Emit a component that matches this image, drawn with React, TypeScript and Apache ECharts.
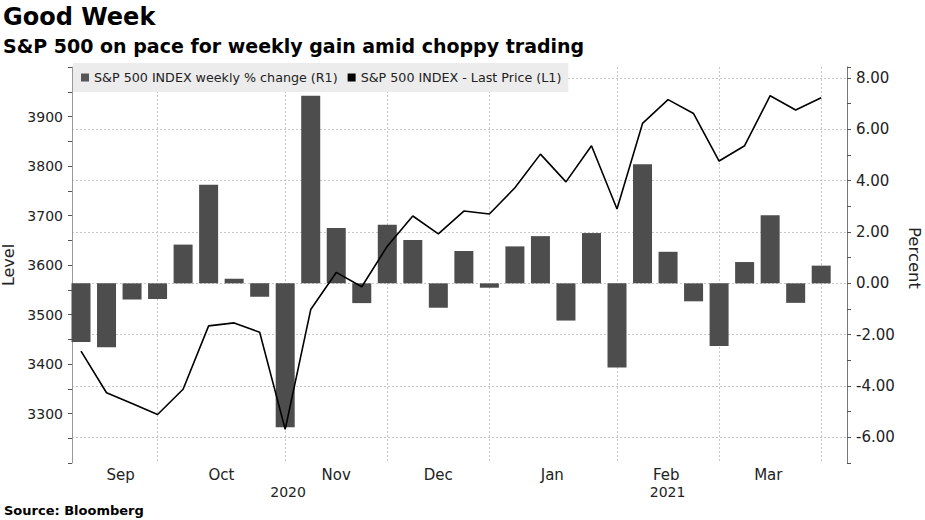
import React, { useEffect, useRef } from 'react';
import * as echarts from 'echarts';

// ---- data ----
const weekDates = [
  '2020-09-04', '2020-09-11', '2020-09-18', '2020-09-25', '2020-10-02', '2020-10-09',
  '2020-10-16', '2020-10-23', '2020-10-30', '2020-11-06', '2020-11-13', '2020-11-20',
  '2020-11-27', '2020-12-04', '2020-12-11', '2020-12-18', '2020-12-25', '2021-01-01',
  '2021-01-08', '2021-01-15', '2021-01-22', '2021-01-29', '2021-02-05', '2021-02-12',
  '2021-02-19', '2021-02-26', '2021-03-05', '2021-03-12', '2021-03-19', '2021-03-26',
];
const weeklyChange = [
  -2.29, -2.49, -0.63, -0.61, 1.51, 3.84, 0.18, -0.52, -5.61, 7.31, 2.16, -0.77,
  2.28, 1.69, -0.95, 1.26, -0.17, 1.44, 1.84, -1.45, 1.96, -3.28, 4.64, 1.23,
  -0.7, -2.44, 0.83, 2.65, -0.76, 0.69,
];
const lastPrice = [
  3426, 3342, 3320, 3298, 3349, 3477, 3483, 3464, 3268, 3510, 3585, 3556,
  3638, 3699, 3663, 3709, 3703, 3756, 3824, 3768, 3841, 3713, 3886, 3934,
  3906, 3810, 3841, 3942, 3913, 3938,
];
const monthEndDates = ['2020-09-25', '2020-10-30', '2020-11-27', '2020-12-25', '2021-01-29', '2021-02-26', '2021-03-26'];
const monthLabelDates = ['2020-09-14 21:00', '2020-10-12 12:00', '2020-11-13 00:00', '2020-12-11 00:00', '2021-01-11 06:00', '2021-02-11 12:00', '2021-03-11 12:00'];
const monthLabels = ['Sep', 'Oct', 'Nov', 'Dec', 'Jan', 'Feb', 'Mar'];
const yearLabelDates = ['2020-10-30 19:00', '2021-02-11 21:00'];
const yearLabels = ['2020', '2021'];
const axisStart = '2020-09-01 12:45';
const axisEnd = '2021-04-02 01:50';
const leftTickLabels = [3300, 3400, 3500, 3600, 3700, 3800, 3900];
const rightTickLabels = [-6, -4, -2, 0, 2, 4, 6, 8];

const barName = 'S&P 500 INDEX weekly % change (R1)';
const lineName = 'S&P 500 INDEX - Last Price (L1)';

const ts = (s: string) => new Date(s.length === 10 ? s + 'T00:00' : s.replace(' ', 'T')).getTime();
const nearestLabel = (v: number, dates: string[], labels: string[]) => {
  let best = 0;
  let bd = Infinity;
  dates.forEach((d, i) => {
    const dd = Math.abs(ts(d) - v);
    if (dd < bd) { bd = dd; best = i; }
  });
  return bd < 86400000 ? labels[best] : '';
};

const FONT = 'DejaVu Sans';

export default function App() {
  const ref = useRef<HTMLDivElement>(null);
  useEffect(() => {
    if (!ref.current) return;
    const chart = echarts.init(ref.current, null, { renderer: 'svg' });
    const xMin = ts(axisStart);
    const xMax = ts(axisEnd);
    const option: any = {
      animation: false,
      backgroundColor: '#ffffff',
      textStyle: { fontFamily: FONT },
      title: [
        { text: 'Good Week', left: 3, top: 5, padding: 0, textStyle: { fontFamily: FONT, fontSize: 24, fontWeight: 'bold', color: '#000' } },
        { text: 'S&P 500 on pace for weekly gain amid choppy trading', left: 3, top: 36, padding: 0, textStyle: { fontFamily: FONT, fontSize: 19, fontWeight: 'bold', color: '#000' } },
        { text: 'Source: Bloomberg', left: 4, top: 504, padding: 0, textStyle: { fontFamily: FONT, fontSize: 13, fontWeight: 'bold', color: '#000' } },
      ],
      legend: {
        left: 73, top: 63, orient: 'horizontal',
        backgroundColor: '#ececec',
        padding: [8, 7, 8, 8],
        itemGap: 10, itemWidth: 8, itemHeight: 8,
        textStyle: { fontFamily: FONT, fontSize: 12.7, color: '#222' },
        data: [
          { name: barName, icon: 'rect', itemStyle: { color: '#555555' } },
          { name: lineName, icon: 'rect', itemStyle: { color: '#000000' } },
        ],
      },
      grid: { left: 72, right: 78, top: 67, bottom: 57, outerBoundsMode: 'none', containLabel: false },
      xAxis: [
        {
          type: 'value', min: xMin, max: xMax, scale: true,
          axisLine: { show: false },
          axisTick: { show: false, customValues: monthEndDates.map(ts) },
          splitLine: { show: true, lineStyle: { type: [2, 2], color: '#c8c8c8', width: 1 } },
          axisLabel: {
            customValues: monthLabelDates.map(ts),
            formatter: (v: number) => nearestLabel(v, monthLabelDates, monthLabels),
            fontFamily: FONT, fontSize: 15, color: '#222', margin: 4,
          },
        },
        {
          type: 'value', min: xMin, max: xMax, scale: true, position: 'bottom',
          axisLine: { show: false },
          axisTick: { show: false },
          splitLine: { show: false },
          axisLabel: {
            customValues: yearLabelDates.map(ts),
            formatter: (v: number) => nearestLabel(v, yearLabelDates, yearLabels),
            fontFamily: FONT, fontSize: 14, color: '#222', margin: 22,
          },
        },
      ],
      yAxis: [
        {
          type: 'value', position: 'left', min: 3200, max: 4000, interval: 50,
          name: 'Level', nameLocation: 'middle', nameRotate: 90, nameGap: 52,
          nameTextStyle: { fontFamily: FONT, fontSize: 16, color: '#222' },
          axisLine: { show: true, lineStyle: { color: '#999999', width: 1 } },
          axisTick: { show: true, length: 4, lineStyle: { color: '#555555' } },
          axisLabel: {
            fontFamily: FONT, fontSize: 14, color: '#222', margin: 9,
            formatter: (v: number) => (leftTickLabels.indexOf(Math.round(v)) >= 0 && Math.abs(v - Math.round(v)) < 1e-6 ? String(Math.round(v)) : ''),
          },
          splitLine: { show: false },
        },
        {
          type: 'value', position: 'right', min: -7, max: 8.43, interval: 1,
          name: 'Percent', nameLocation: 'middle', nameRotate: -90, nameGap: 57,
          nameTextStyle: { fontFamily: FONT, fontSize: 16.5, color: '#222', padding: [0, 14, 0, 0] },
          axisLine: { show: true, lineStyle: { color: '#777777', width: 1 } },
          axisTick: { show: true, length: 4, lineStyle: { color: '#555555' } },
          axisLabel: {
            fontFamily: FONT, fontSize: 15, color: '#222', margin: 9,
            formatter: (v: number) => {
              const r = Math.round(v);
              return Math.abs(v - r) < 1e-6 && rightTickLabels.indexOf(r) >= 0 ? r.toFixed(2) : '';
            },
          },
          splitLine: { show: true, lineStyle: { type: [2, 2], width: 1, color: ['rgba(0,0,0,0)', '#c8c8c8'] } },
        },
      ],
      series: [
        {
          name: barName, type: 'bar', xAxisIndex: 0, yAxisIndex: 1,
          barWidth: 19,
          itemStyle: { color: '#4d4d4d' },
          data: weekDates.map((d, i) => [ts(d), weeklyChange[i]]),
          z: 2,
        },
        {
          name: lineName, type: 'line', xAxisIndex: 0, yAxisIndex: 0,
          showSymbol: false, symbol: 'none',
          color: '#000000',
          itemStyle: { color: '#000000' },
          lineStyle: { color: '#000000', width: 1.6 },
          data: weekDates.map((d, i) => [ts(d), lastPrice[i]]),
          z: 3,
        },
      ],
    };
    chart.setOption(option);
    return () => chart.dispose();
  }, []);
  return <div ref={ref} style={{ position: 'fixed', left: 0, top: 0, width: 925, height: 520 }} />;
}
